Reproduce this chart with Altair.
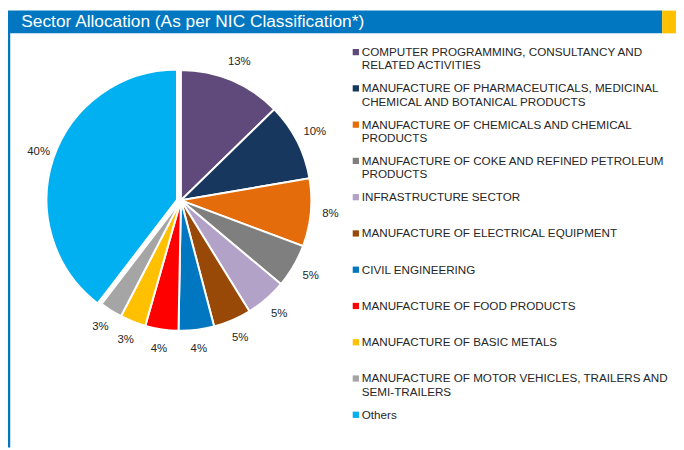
import altair as alt
import pandas as pd

categories = [
    "COMPUTER PROGRAMMING, CONSULTANCY AND\nRELATED ACTIVITIES",
    "MANUFACTURE OF PHARMACEUTICALS, MEDICINAL\nCHEMICAL AND BOTANICAL PRODUCTS",
    "MANUFACTURE OF CHEMICALS AND CHEMICAL\nPRODUCTS",
    "MANUFACTURE OF COKE AND REFINED PETROLEUM\nPRODUCTS",
    "INFRASTRUCTURE SECTOR",
    "MANUFACTURE OF ELECTRICAL EQUIPMENT",
    "CIVIL ENGINEERING",
    "MANUFACTURE OF FOOD PRODUCTS",
    "MANUFACTURE OF BASIC METALS",
    "MANUFACTURE OF MOTOR VEHICLES, TRAILERS AND\nSEMI-TRAILERS",
    "Others",
]
values = [12.7, 9.6, 8.4, 5.4, 5.1, 4.7, 4.4, 4.1, 3.2, 2.8, 39.6]
colors = ["#604a7b", "#17375e", "#e46c0a", "#7f7f7f", "#b3a2c7", "#984807",
          "#0077c0", "#ff0000", "#ffc000", "#a5a5a5", "#00b0f0"]
title_text = "Sector Allocation (As per NIC Classification*)"
exploded = "Others"

df = pd.DataFrame({
    "cat": categories,
    "val": values,
    "idx": list(range(len(categories))),
    "label": [f"{round(v)}%" for v in values],
})

W, H = 676, 442
CX, CY = 175, 192
R = 132

color_scale = alt.Scale(domain=categories, range=colors)

base = alt.Chart(df).encode(
    theta=alt.Theta("val:Q", stack=True),
    order=alt.Order("idx:Q"),
)

is_exp = alt.datum.cat == exploded

pie = base.mark_arc(outerRadius=R, stroke="white", strokeWidth=2).encode(
    color=alt.Color("cat:N", scale=color_scale, legend=None),
    opacity=alt.condition(is_exp, alt.value(0), alt.value(1)),
    x=alt.value(CX), y=alt.value(CY),
)
pie_exp = base.mark_arc(outerRadius=R, stroke="white", strokeWidth=2).encode(
    color=alt.Color("cat:N", scale=color_scale, legend=None),
    opacity=alt.condition(is_exp, alt.value(1), alt.value(0)),
    x=alt.value(CX - 4), y=alt.value(CY - 0.5),
)

pie_labels = base.mark_text(radius=152, font="Liberation Sans", fontSize=11.5,
                            color="#262626").encode(
    text="label:N",
    x=alt.value(CX), y=alt.value(CY),
)

leg_y = alt.Y("idx:Q", scale=alt.Scale(domain=[0, 10], range=[42, 409]), axis=None)

leg_sq = alt.Chart(df).mark_square(size=40, opacity=1).encode(
    x=alt.value(352),
    y=leg_y,
    color=alt.Color("cat:N", scale=color_scale, legend=None),
)
leg_txt = alt.Chart(df).mark_text(
    align="left", baseline="middle", font="Liberation Sans", fontSize=11.8,
    color="#262626", lineBreak="\n", lineHeight=13.5,
).encode(
    x=alt.value(358),
    y=leg_y,
    text="cat:N",
)

hdr_df = pd.DataFrame({"t": [title_text]})
header = alt.Chart(hdr_df).mark_rect(color="#0077c0").encode(
    x=alt.value(0), x2=alt.value(662), y=alt.value(0), y2=alt.value(23))
yellow = alt.Chart(hdr_df).mark_rect(color="#ffc000").encode(
    x=alt.value(662), x2=alt.value(W), y=alt.value(0), y2=alt.value(23))
hdr_txt = alt.Chart(hdr_df).mark_text(
    align="left", baseline="alphabetic", font="Liberation Sans", fontSize=17.5,
    color="white").encode(x=alt.value(13.5), y=alt.value(17), text="t:N")
border = alt.Chart(hdr_df).mark_rule(color="#0077c0", strokeWidth=2.5).encode(
    x=alt.value(1), y=alt.value(22), y2=alt.value(H))

chart = alt.layer(header, yellow, hdr_txt, border, pie, pie_exp, pie_labels,
                  leg_sq, leg_txt).properties(
    width=W, height=H, padding=0, autosize="none"
).configure_view(stroke=None)

chart.save("out.html", embed_options={"renderer": "svg", "actions": False})
